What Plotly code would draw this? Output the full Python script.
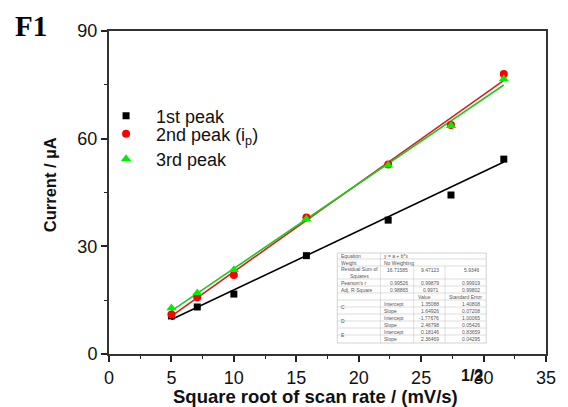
import plotly.graph_objects as go

# Square root of scan rate, (mV/s)^1/2
sqrt_scan_rate = [5.0, 7.07, 10.0, 15.81, 22.36, 27.39, 31.62]

# Peak currents, uA
peak1 = [10.6, 13.1, 16.7, 27.4, 37.3, 44.3, 54.3]
peak2 = [11.0, 15.8, 22.0, 38.0, 52.8, 63.8, 78.0]
peak3 = [12.8, 17.0, 23.5, 37.6, 52.6, 63.6, 76.6]

# Linear fit results (y = a + b*x)
fit_names = ["C", "D", "E"]
fit_intercept = [1.35088, -1.77676, 0.18146]
fit_slope = [1.64926, 2.46798, 2.36469]
fit_intercept_err = [1.40808, 1.00065, 0.83659]
fit_slope_err = [0.07208, 0.05426, 0.04295]
residual_ss = ["16.71585", "9.47123", "5.9346"]
pearson_r = ["0.99526", "0.99879", "0.99919"]
adj_r2 = ["0.98865", "0.9971", "0.99802"]

series_names = ["1st peak", "2nd peak (i<sub>p</sub>)", "3rd peak"]
marker_colors = ["#000000", "#ff0000", "#00f000"]
line_colors = ["#000000", "#d81e1e", "#22c822"]
symbols = ["square", "circle", "triangle-up"]
marker_sizes = [7, 8, 9]

W, H = 568, 407
L, R, T, B = 109, 13, 31, 53
PW, PH = W - L - R, H - T - B


def fx(px):
    return (px - L) / PW


def fy(py):
    return (H - B - py) / PH


fig = go.Figure()

# fitted lines
x0, x1 = sqrt_scan_rate[0], sqrt_scan_rate[-1]
for i in range(3):
    fig.add_trace(go.Scatter(
        x=[x0, x1],
        y=[fit_intercept[i] + fit_slope[i] * x0, fit_intercept[i] + fit_slope[i] * x1],
        mode="lines", line=dict(color=line_colors[i], width=1.6),
        showlegend=False, hoverinfo="skip"))

legend_ids = ["legend", "legend2", "legend3"]
for i, ys in enumerate([peak1, peak2, peak3]):
    fig.add_trace(go.Scatter(
        x=sqrt_scan_rate, y=ys, mode="markers",
        name="\u00a0\u00a0" + series_names[i],
        marker=dict(symbol=symbols[i], size=marker_sizes[i], color=marker_colors[i],
                    line=dict(width=0)),
        legend=legend_ids[i]))

legend_font = dict(family="Liberation Sans, Arial", size=18, color="#111")
legend_y = [116, 134, 159]
leg_common = dict(font=legend_font, bgcolor="rgba(0,0,0,0)", borderwidth=0,
                  xanchor="left", yanchor="middle", tracegroupgap=0)

axis_font = dict(family="Liberation Sans, Arial", size=18, color="#111")

fig.update_layout(
    width=W, height=H,
    margin=dict(l=L, r=R, t=T, b=B),
    paper_bgcolor="white", plot_bgcolor="white",
    legend=dict(x=fx(106), y=fy(legend_y[0]), **leg_common),
    legend2=dict(x=fx(106), y=fy(legend_y[1]), **leg_common),
    legend3=dict(x=fx(106), y=fy(legend_y[2]), **leg_common),
    xaxis=dict(range=[0, 35], tickmode="array", tickvals=[0, 5, 10, 15, 20, 25, 30, 35],
               ticks="outside", ticklen=6, tickwidth=1.5, tickcolor="#222",
               minor=dict(tickvals=[2.5, 7.5, 12.5, 17.5, 22.5, 27.5, 32.5],
                          ticks="outside", ticklen=3, tickwidth=1.3, tickcolor="#222"),
               showline=True, linecolor="#333", linewidth=2, mirror=True,
               showgrid=False, zeroline=False, tickfont=axis_font),
    yaxis=dict(range=[0, 90], tickmode="array", tickvals=[0, 30, 60, 90],
               ticks="outside", ticklen=6, tickwidth=1.5, tickcolor="#222",
               minor=dict(tickvals=[15, 45, 75],
                          ticks="outside", ticklen=3, tickwidth=1.3, tickcolor="#222"),
               showline=True, linecolor="#333", linewidth=2, mirror=True,
               showgrid=False, zeroline=False, tickfont=axis_font),
)

annotations = []
shapes = []

# axis titles
annotations.append(dict(
    xref="paper", yref="paper", x=fx(320), y=fy(396),
    text="<b>Square root of scan rate / (mV/s)</b>", showarrow=False,
    font=dict(family="Liberation Sans, Arial", size=18.5, color="#111"),
    xanchor="center", yanchor="middle"))
annotations.append(dict(
    xref="paper", yref="paper", x=fx(479), y=fy(376),
    text="<b>1/2</b>", showarrow=False,
    font=dict(family="Liberation Sans, Arial", size=16, color="#111"),
    xanchor="center", yanchor="middle"))
annotations.append(dict(
    xref="paper", yref="paper", x=fx(49), y=fy(185),
    text="<b>Current / \u00b5A</b>", showarrow=False, textangle=-90,
    font=dict(family="Liberation Sans, Arial", size=16.5, color="#111"),
    xanchor="center", yanchor="middle"))
annotations.append(dict(
    xref="paper", yref="paper", x=fx(29), y=fy(26),
    text="<b>F1</b>", showarrow=False,
    font=dict(family="Liberation Serif, Times New Roman", size=29, color="#000"),
    xanchor="center", yanchor="middle"))

# fit results table
tx0, tx1, ty0, ty1 = 342, 494, 253, 343
grid = "#c8c8c8"
shapes.append(dict(type="rect", xref="paper", yref="paper",
                   x0=fx(tx0), x1=fx(tx1), y0=fy(ty1), y1=fy(ty0),
                   fillcolor="white", line=dict(color=grid, width=0.8), layer="above"))
row_lines = [259, 266, 279, 286, 293, 300, 307, 314, 321, 328, 335]
for ry in row_lines:
    shapes.append(dict(type="line", xref="paper", yref="paper",
                       x0=fx(tx0), x1=fx(tx1), y0=fy(ry), y1=fy(ry),
                       line=dict(color=grid, width=0.6), layer="above"))
shapes.append(dict(type="line", xref="paper", yref="paper",
                   x0=fx(386), x1=fx(386), y0=fy(ty1), y1=fy(ty0),
                   line=dict(color=grid, width=0.6), layer="above"))
for cx in [420, 452]:
    shapes.append(dict(type="line", xref="paper", yref="paper",
                       x0=fx(cx), x1=fx(cx), y0=fy(ty1), y1=fy(266),
                       line=dict(color=grid, width=0.6), layer="above"))

tfont = dict(family="Liberation Sans, Arial", size=5, color="#555")


def cell(px, py, text, anchor="left"):
    annotations.append(dict(xref="paper", yref="paper", x=fx(px), y=fy(py),
                            text=text, showarrow=False, font=tfont,
                            xanchor=anchor, yanchor="middle"))


cell(344, 256, "Equation")
cell(388, 256, "y = a + b*x")
cell(344, 262.5, "Weight")
cell(388, 262.5, "No Weighting")
cell(344, 272.5, "Residual Sum of<br>Squares")
cell(344, 282.5, "Pearson's r")
cell(344, 289.5, "Adj. R-Square")
col_right = [416, 448, 490]
for j in range(3):
    cell(col_right[j], 270, residual_ss[j], "right")
    cell(col_right[j], 282.5, pearson_r[j], "right")
    cell(col_right[j], 289.5, adj_r2[j], "right")
cell(422, 296.5, "Value")
cell(454, 296.5, "Standard Error")
row_y = [(303.5, 310.5), (317.5, 324.5), (331.5, 339)]
for i in range(3):
    yi, ys = row_y[i]
    cell(344, (yi + ys) / 2, fit_names[i])
    cell(388, yi, "Intercept")
    cell(388, ys, "Slope")
    cell(448, yi, f"{fit_intercept[i]:.5f}", "right")
    cell(448, ys, f"{fit_slope[i]:.5f}", "right")
    cell(490, yi, f"{fit_intercept_err[i]:.5f}", "right")
    cell(490, ys, f"{fit_slope_err[i]:.5f}", "right")

fig.update_layout(annotations=annotations, shapes=shapes)

fig.write_html("out.html")
